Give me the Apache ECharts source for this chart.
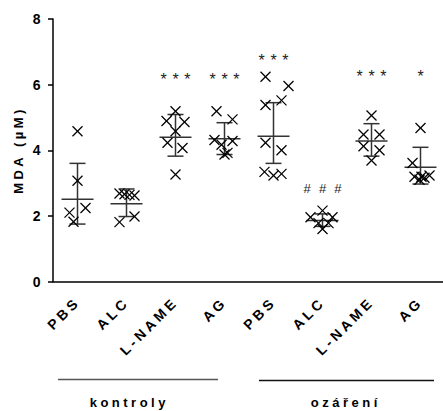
<!DOCTYPE html>
<html>
<head>
<meta charset="utf-8">
<script src="https://cdn.jsdelivr.net/npm/echarts@6/dist/echarts.min.js"></script>
<style>
  html, body { margin: 0; padding: 0; background: #fff; }
  #chart { width: 443px; height: 411px; }
  /* spaced-out lettering used throughout the figure */
  #chart text { letter-spacing: 3.5px; }
</style>
</head>
<body>
<div id="chart"></div>
<script>
// Treatment groups along the x axis (controls first, then irradiated)
const categories = ['PBS', 'ALC', 'L-NAME', 'AG', 'PBS', 'ALC', 'L-NAME', 'AG'];

// Individual MDA measurements (µM) per group
const ctrlPBS   = [4.58, 3.07, 2.24, 2.10, 1.82];
const ctrlALC   = [2.68, 2.66, 2.64, 2.62, 1.98, 1.81];
const ctrlLNAME = [5.19, 4.89, 4.86, 4.58, 4.23, 4.07, 3.26];
const ctrlAG    = [5.19, 4.94, 4.31, 4.28, 4.17, 3.92, 3.87];
const irrPBS    = [6.24, 5.96, 5.52, 5.38, 4.23, 4.00, 3.34, 3.28, 3.23];
const irrALC    = [2.16, 1.96, 1.96, 1.78, 1.78, 1.60];
const irrLNAME  = [5.06, 4.48, 4.48, 4.12, 4.00, 3.69];
const irrAG     = [4.68, 3.61, 3.23, 3.19, 3.19, 3.16, 3.10];

// Group summary: centre line and error-bar limits
const means = [2.51, 2.37, 4.40, 4.35, 4.43, 1.86, 4.28, 3.48];
const upper = [3.60, 2.82, 5.09, 4.84, 5.45, 2.06, 4.81, 4.09];
const lower = [1.75, 1.98, 3.82, 3.87, 3.60, 1.68, 3.82, 2.97];

// Significance marks and the height at which they are printed
const sigText  = ['', '', '***', '***', '***', '###', '***', '*'];
const sigLevel = [null, null, 6.26, 6.26, 6.84, 2.82, 6.34, 6.34];

// Axis titles and group captions
const yTitle = 'MDA (µM)';
const groupNames = ['kontroly', 'ozáření'];

// Y axis tick settings
const yMin = 0, yMax = 8, yStep = 2;

// ---- layout / styling (not data) ----
// horizontal scatter of the markers inside each column, in pixels
const spread = [
  [0, 0, 8, -8, -4],
  [-7, -2, 3, 8, 8, -7],
  [0, -9, 9, 0, -8, 7, 0],
  [-8, 8, -10, 8, -3, 3, 0],
  [-8, 15, 8, -8, -8, 8, -9, 8, 0],
  [0, -12, 10, -4, 6, 0],
  [0, -8, 8, -8, 8, 0],
  [0, -8, 9, -6, 1, 4, -1]
];
const FONT = "'Liberation Sans', Arial, Helvetica, sans-serif";
const groups = [ctrlPBS, ctrlALC, ctrlLNAME, ctrlAG, irrPBS, irrALC, irrLNAME, irrAG];

const pointData = [];
const pointShift = [];
groups.forEach((vals, g) => {
  vals.forEach((v, k) => {
    pointData.push([g, v]);
    pointShift.push(spread[g][k]);
  });
});

const summaryData = means.map((m, i) => [i, m, upper[i], lower[i]]);
const sigData = [];
sigLevel.forEach((lv, i) => { if (lv !== null) sigData.push([i, lv]); });

const chart = echarts.init(document.getElementById('chart'), null, { renderer: 'svg' });

chart.setOption({
  animation: false,
  backgroundColor: '#fff',
  grid: { left: 53, right: -2, top: 19, bottom: 129.5, containLabel: false, outerBoundsMode: 'none' },
  xAxis: {
    type: 'category',
    data: categories,
    boundaryGap: true,
    axisLine: { lineStyle: { color: '#000', width: 1.5 } },
    axisTick: { alignWithLabel: true, length: 6, lineStyle: { color: '#000', width: 1.5 } },
    axisLabel: {
      interval: 0, rotate: 45, margin: 18,
      color: '#000', fontWeight: 'bold', fontSize: 14, fontFamily: FONT
    },
    splitLine: { show: false }
  },
  yAxis: {
    type: 'value',
    min: yMin, max: yMax, interval: yStep,
    axisLine: { show: true, lineStyle: { color: '#000', width: 1.5 } },
    axisTick: { show: true, length: 5, lineStyle: { color: '#000', width: 1.5 } },
    axisLabel: { margin: 9, color: '#000', fontWeight: 'bold', fontSize: 14, fontFamily: FONT },
    splitLine: { show: false }
  },
  series: [
    {
      // mean line with error bar for each group
      type: 'custom',
      data: summaryData,
      encode: { x: 0, y: 1 },
      z: 3,
      renderItem: function (params, api) {
        const i = api.value(0);
        const m = api.coord([i, api.value(1)]);
        const hi = api.coord([i, api.value(2)]);
        const lo = api.coord([i, api.value(3)]);
        const x = m[0];
        const st = { stroke: '#333', lineWidth: 1.5 };
        return {
          type: 'group',
          children: [
            { type: 'line', shape: { x1: x - 16, y1: m[1], x2: x + 16, y2: m[1] }, style: st },
            { type: 'line', shape: { x1: x, y1: hi[1], x2: x, y2: lo[1] }, style: st },
            { type: 'line', shape: { x1: x - 8, y1: hi[1], x2: x + 8, y2: hi[1] }, style: st },
            { type: 'line', shape: { x1: x - 8, y1: lo[1], x2: x + 8, y2: lo[1] }, style: st }
          ]
        };
      }
    },
    {
      // individual measurements drawn as crosses
      type: 'custom',
      data: pointData,
      encode: { x: 0, y: 1 },
      z: 4,
      renderItem: function (params, api) {
        const p = api.coord([api.value(0), api.value(1)]);
        const x = p[0] + pointShift[params.dataIndex];
        const y = p[1];
        const r = 5;
        const st = { stroke: '#000', lineWidth: 1.3 };
        return {
          type: 'group',
          children: [
            { type: 'line', shape: { x1: x - r, y1: y - r, x2: x + r, y2: y + r }, style: st },
            { type: 'line', shape: { x1: x - r, y1: y + r, x2: x + r, y2: y - r }, style: st }
          ]
        };
      }
    },
    {
      // significance symbols above the groups
      type: 'custom',
      data: sigData,
      encode: { x: 0, y: 1 },
      z: 5,
      renderItem: function (params, api) {
        const i = api.value(0);
        const p = api.coord([i, api.value(1)]);
        const chars = sigText[i].split('');
        const isStar = chars[0] === '*';
        const gap = isStar ? 11.8 : 15.3;
        const size = isStar ? 16 : 13;
        const dy = isStar ? 3 : 0;
        return {
          type: 'group',
          children: chars.map((c, k) => ({
            type: 'text',
            x: p[0] + 1.75 + (k - (chars.length - 1) / 2) * gap,
            y: p[1] + dy,
            style: {
              text: c, fill: '#222',
              font: size + 'px ' + FONT,
              align: 'center', verticalAlign: 'middle'
            }
          }))
        };
      }
    }
  ],
  graphic: [
    {
      // vertical axis title, reading bottom to top
      type: 'text', x: 18, y: 150, rotation: Math.PI / 2,
      style: { text: yTitle, fill: '#000', font: 'bold 13px ' + FONT, align: 'center', verticalAlign: 'middle' }
    },
    { type: 'line', shape: { x1: 58, y1: 379.5, x2: 218, y2: 379.5 }, style: { stroke: '#555', lineWidth: 1.5 } },
    { type: 'line', shape: { x1: 259, y1: 380.5, x2: 434, y2: 380.5 }, style: { stroke: '#111', lineWidth: 1.5 } },
    {
      type: 'text', x: 129.3, y: 402,
      style: { text: groupNames[0], fill: '#000', font: 'bold 13px ' + FONT, align: 'center', verticalAlign: 'middle' }
    },
    {
      type: 'text', x: 345.8, y: 402,
      style: { text: groupNames[1], fill: '#000', font: 'bold 13px ' + FONT, align: 'center', verticalAlign: 'middle' }
    }
  ]
});
</script>
</body>
</html>
